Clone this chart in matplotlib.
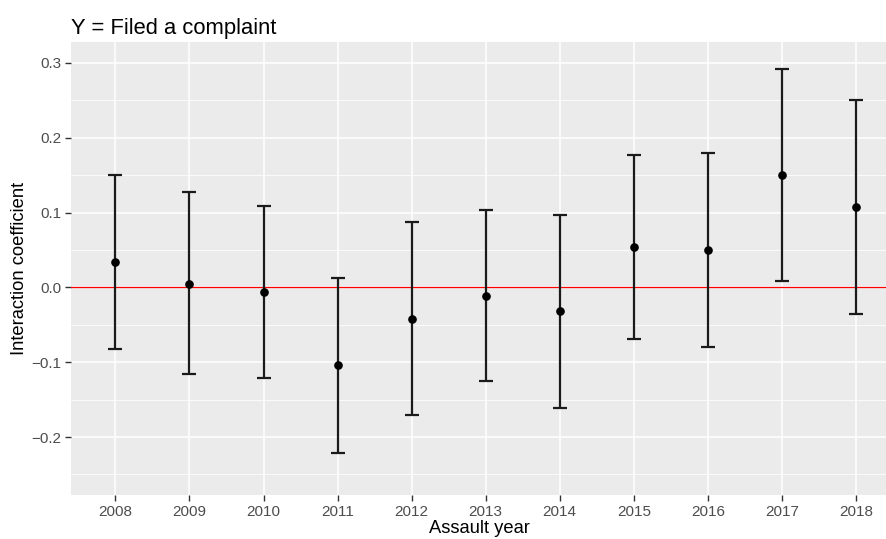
import numpy as np
import matplotlib.pyplot as plt
from matplotlib.ticker import MultipleLocator, FuncFormatter

plt.rcParams['font.family'] = ['Liberation Sans', 'DejaVu Sans']

# data
years = [2008, 2009, 2010, 2011, 2012, 2013, 2014, 2015, 2016, 2017, 2018]
coef = [0.034, 0.005, -0.006, -0.104, -0.042, -0.011, -0.032, 0.054, 0.050, 0.150, 0.107]
ci_low = [-0.082, -0.116, -0.121, -0.221, -0.170, -0.125, -0.161, -0.069, -0.080, 0.008, -0.035]
ci_high = [0.150, 0.128, 0.109, 0.013, 0.087, 0.104, 0.097, 0.177, 0.179, 0.292, 0.250]

coef = np.array(coef)
err = np.vstack([coef - np.array(ci_low), np.array(ci_high) - coef])

fig = plt.figure(figsize=(8.87, 5.39), dpi=100)
ax = fig.add_axes([71 / 887, 1 - 495 / 539, 1 - 71 / 887, (495 - 42) / 539])
ax.set_facecolor('#EBEBEB')
for s in ax.spines.values():
    s.set_visible(False)

ax.set_xlim(2007.4, 2018.42)
ax.set_ylim(-0.2775, 0.328)
ax.set_xticks(years)
ax.set_xticklabels([str(y) for y in years])
ax.yaxis.set_major_locator(MultipleLocator(0.1))
ax.yaxis.set_minor_locator(MultipleLocator(0.05))
ax.yaxis.set_major_formatter(FuncFormatter(lambda v, p: ('%.1f' % v).replace('-', '\u2212')))

ax.grid(which='major', color='white', lw=1.1, zorder=0)
ax.grid(which='minor', axis='y', color='white', lw=0.55, zorder=0)
ax.set_axisbelow(True)
ax.tick_params(axis='both', which='major', direction='out', length=4, width=1.0,
               color='#333333', labelcolor='#4D4D4D', labelsize=11, pad=3)
ax.tick_params(axis='y', which='minor', length=0)

ax.axhline(0, color='#FF0000', lw=0.9, zorder=1)
ax.errorbar(years, coef, yerr=err, fmt='o', color='black', ecolor='#1a1a1a',
            elinewidth=1.6, capsize=5.2, capthick=1.6, markersize=5.2, zorder=3)

ax.set_xlabel('Assault year', fontsize=13.2, labelpad=1)
ax.set_ylabel('Interaction coefficient', fontsize=13.2, labelpad=2)
ax.set_title('Y = Filed a complaint', fontsize=15.8, loc='left', pad=6)

fig.savefig('out.png', dpi=100)
